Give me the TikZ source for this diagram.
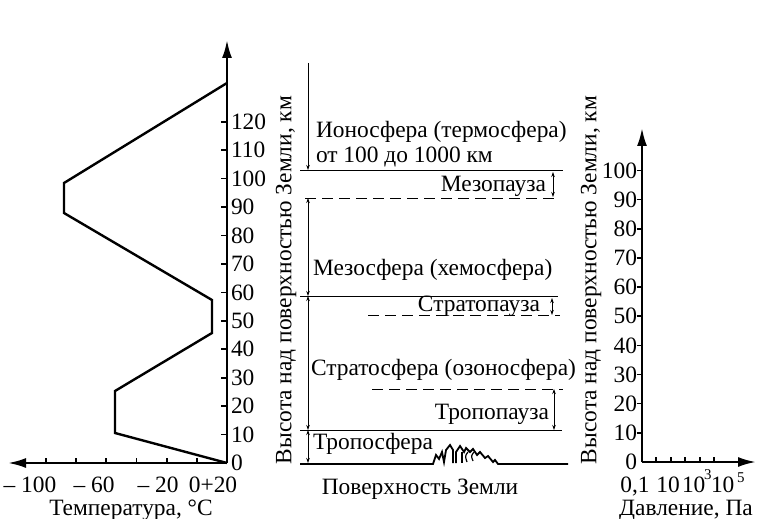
\documentclass[tikz,border=0pt]{standalone}
\usepackage{fontspec}
\setmainfont{Liberation Serif}
\usetikzlibrary{arrows.meta}
\begin{document}
\begin{tikzpicture}[x=1bp,y=-1bp,
  font=\fontsize{23.5}{25}\selectfont,
  thick axis/.style={line width=2.3bp, -{Latex[length=18bp,width=10bp]}},
  curve/.style={line width=2.4bp, line join=miter},
  tickline/.style={line width=1.6bp},
  thin line/.style={line width=0.9bp},
  dimarrow/.style={line width=0.8bp, {Stealth[length=5bp,width=3.5bp]}-{Stealth[length=5bp,width=3.5bp]}},
  downarrow/.style={line width=0.8bp, -{Stealth[length=5bp,width=3.5bp]}},
  dashline/.style={line width=0.9bp, dash pattern=on 11bp off 6bp},
  lbl/.style={inner sep=0pt, outer sep=0pt},
  sup/.style={inner sep=0pt, font=\fontsize{15}{15}\selectfont}
]
\useasboundingbox (0,0) rectangle (757,519);

% ---------------- Left: temperature graph ----------------
\coordinate (L0) at (227,463);
\coordinate (Ltop) at (227,40);
\coordinate (Lleft) at (8,463);
\draw[thick axis] (L0) -- (Ltop);
\draw[thick axis] (L0) -- (Lleft);
\foreach \k in {1,...,12} {
  \coordinate (lt\k) at (227,{463-\k*28.43});
  \draw[tickline] (lt\k) -- ++(-6,0);
}
\foreach \k in {0,...,12} {
  \pgfmathtruncatemacro{\v}{\k*10}
  \node[lbl, anchor=west] (ll\k) at (231,{463-\k*28.43}) {\v};
}
\foreach \x [count=\i] in {46,76,106,136.5,167,197} {
  \coordinate (ht\i) at (\x,463);
  \draw[tickline] (ht\i) -- ++(0,-5);
}
\node[lbl, anchor=base] (tm100) at (30,492) {– 100};
\node[lbl, anchor=base] (tm60) at (94,492) {– 60};
\node[lbl, anchor=base] (tm20) at (158,492) {– 20};
\node[lbl, anchor=base] (t020) at (213,492) {0+20};
\node[lbl, anchor=base] (tempname) at (131,515) {Температура, °C};

\draw[curve] (227,463) -- (115,433) -- (115,391) -- (212,333) -- (212,300)
  -- (64,213) -- (64,183) -- (227,83);

\node[lbl, rotate=90] (hl) at (286,280) {Высота над поверхностью Земли, км};

% ---------------- Centre: layers ----------------
\coordinate (i1) at (308,63);
\coordinate (i2) at (308,170);
\draw[downarrow] (i1) -- (i2);
\node[lbl, anchor=west] (iono1) at (316,132) {Ионосфера (термосфера)};
\node[lbl, anchor=west] (iono2) at (316,157) {от 100 до 1000 км};

\coordinate (s100a) at (300,170);
\coordinate (s100b) at (563,170);
\draw[thin line] (s100a) -- (s100b);
\node[lbl, anchor=east] (mezop) at (546,186) {Мезопауза};
\coordinate (mp1) at (553,172);
\coordinate (mp2) at (553,197);
\draw[dimarrow] (mp1) -- (mp2);
\coordinate (d1a) at (305,198);
\coordinate (d1b) at (560,198);
\draw[dashline] (d1a) -- (d1b);

\coordinate (ms1) at (308,198);
\coordinate (ms2) at (308,296);
\draw[dimarrow] (ms1) -- (ms2);
\node[lbl, anchor=west] (mezos) at (313,270) {Мезосфера (хемосфера)};

\coordinate (s57a) at (300,296);
\coordinate (s57b) at (558,296);
\draw[thin line] (s57a) -- (s57b);
\node[lbl, anchor=east] (stratop) at (540,306) {Стратопауза};
\coordinate (sp1) at (552,298);
\coordinate (sp2) at (552,315);
\draw[dimarrow] (sp1) -- (sp2);
\coordinate (d2a) at (368,315);
\coordinate (d2b) at (560,315);
\draw[dashline] (d2a) -- (d2b);

\coordinate (st1) at (308,296);
\coordinate (st2) at (308,430);
\draw[dimarrow] (st1) -- (st2);
\node[lbl, anchor=west] (stratos) at (311,370) {Стратосфера (озоносфера)};

\coordinate (d3a) at (372,389);
\coordinate (d3b) at (563,389);
\draw[dashline] (d3a) -- (d3b);
\node[lbl, anchor=east] (tropop) at (549,414) {Тропопауза};
\coordinate (tp1) at (554,389);
\coordinate (tp2) at (554,430);
\draw[dimarrow] (tp1) -- (tp2);

\coordinate (s10a) at (300,430);
\coordinate (s10b) at (562,430);
\draw[thin line] (s10a) -- (s10b);

\coordinate (tr1) at (308,430);
\coordinate (tr2) at (308,463);
\draw[dimarrow] (tr1) -- (tr2);
\node[lbl, anchor=west] (tropos) at (313,444) {Тропосфера};

% ground with mountains
\draw[line width=1.8bp, line join=miter] (300,464) -- (433,464)
  -- (436,455) -- (439,459) -- (442,452) -- (444,462) -- (446,450) -- (450,445)
  -- (453,450) -- (453,463);
\draw[line width=1.8bp, line join=miter] (456,463) -- (456,452) -- (460,446)
  -- (464,452) -- (466,448) -- (470,452) -- (473,449) -- (477,455) -- (480,452)
  -- (485,458) -- (488,456) -- (493,462) -- (495,460) -- (498,464) -- (568,464);
\draw[line width=1.2bp] (462,452) -- (462,463);
\draw[line width=1.2bp] (468,452) .. controls (465,456) .. (467,462);
\draw[line width=1.2bp] (474,452) .. controls (471,456) .. (473,461);
\node[lbl] (surface) at (420,489) {Поверхность Земли};

% ---------------- Right: pressure graph ----------------
\coordinate (R0) at (642,462);
\coordinate (Rtop) at (642,128);
\coordinate (Rright) at (756,462);
\draw[thick axis] (R0) -- (Rtop);
\draw[thick axis] (R0) -- (Rright);
\foreach \k in {1,...,10} {
  \coordinate (rt\k) at (642,{462-\k*29.16});
  \draw[tickline] (rt\k) -- ++(-5,0);
}
\foreach \k in {0,...,10} {
  \pgfmathtruncatemacro{\v}{\k*10}
  \node[lbl, anchor=east] (rl\k) at (637,{462-\k*29.16}) {\v};
}
\foreach \x [count=\i] in {656,671,685,700,714} {
  \coordinate (pt\i) at (\x,462);
  \draw[tickline] (pt\i) -- ++(0,-5);
}
\node[lbl, anchor=base] (p01) at (635,492) {0,1};
\node[lbl, anchor=base] (p10) at (668,492) {10};
\node[lbl, anchor=base west] (p103) at (682,492) {10};
\node[sup, anchor=base west] (p3) at (704,479) {3};
\node[lbl, anchor=base west] (p105) at (711,492) {10};
\node[sup, anchor=base west] (p5) at (737,482) {5};
\node[lbl, anchor=base] (presname) at (686,515) {Давление, Па};

\node[lbl, rotate=90] (hr) at (591,280) {Высота над поверхностью Земли, км};
\end{tikzpicture}
\end{document}
